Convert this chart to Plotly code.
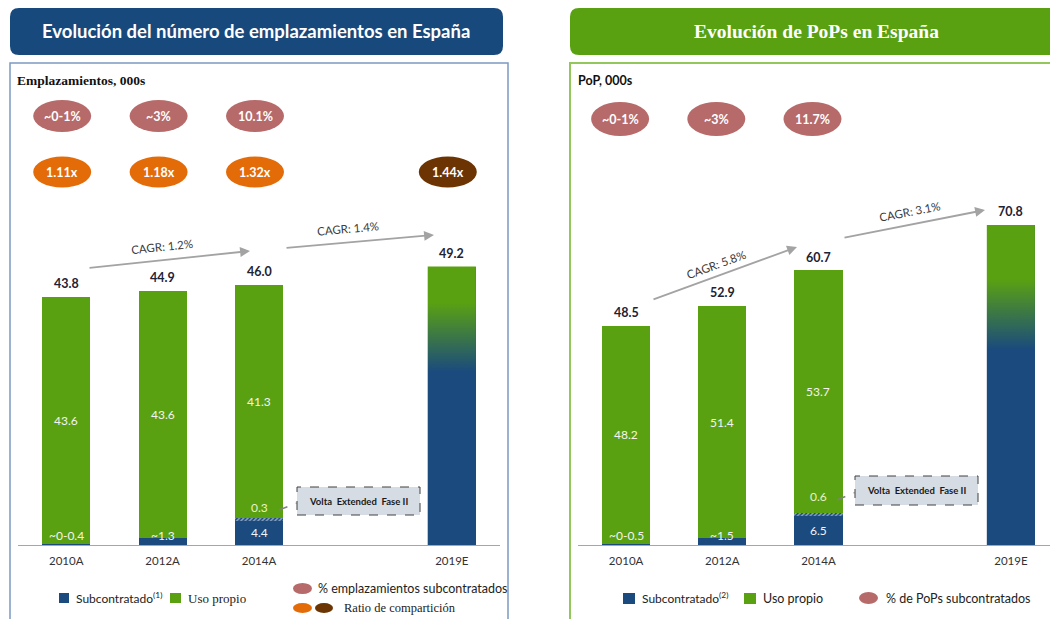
import plotly.graph_objects as go

OFF = 8  # page body margin compensation
W, H = 1058 - OFF, 619 - OFF

# ---------------- data ----------------
categories = ["2010A", "2012A", "2014A", "2019E"]
cat_pos = [0, 1, 2, 4]

emp_sub = [0.2, 1.3, 4.4]
emp_volta = [0.0, 0.0, 0.3]
emp_uso = [43.6, 43.6, 41.3]
emp_total = [43.8, 44.9, 46.0, 49.2]
emp_sub_labels = ["~0-0.4", "~1.3", "4.4"]
emp_uso_labels = ["43.6", "43.6", "41.3"]
emp_volta_label = "0.3"
emp_pct = ["~0-1%", "~3%", "10.1%"]
emp_ratio = ["1.11x", "1.18x", "1.32x", "1.44x"]
emp_cagr = ["CAGR: 1.2%", "CAGR: 1.4%"]

pop_sub = [0.3, 1.5, 6.5]
pop_volta = [0.0, 0.0, 0.6]
pop_uso = [48.2, 51.4, 53.7]
pop_total = [48.5, 52.9, 60.7, 70.8]
pop_sub_labels = ["~0-0.5", "~1.5", "6.5"]
pop_uso_labels = ["48.2", "51.4", "53.7"]
pop_volta_label = "0.6"
pop_pct = ["~0-1%", "~3%", "11.7%"]
pop_cagr = ["CAGR: 5.8%", "CAGR: 3.1%"]

# ---------------- styles ----------------
BLUE = "#1A4A7E"
GREEN = "#5AA112"
PINK = "#B66A6A"
ORANGE = "#E36C09"
BROWN = "#6B3402"
TITLE_BLUE = "#17497C"
TITLE_GREEN = "#5AA112"
SANS = "Lato"
SERIF = "Liberation Serif"


def px(x):
    return (x - OFF) / W


def py(y):
    return 1 - (y - OFF) / H


fig = go.Figure()
shapes = []
anns = []


def add_panel(xa, ya, sub, volta, uso, total, sub_labels, uso_labels, volta_label,
              volta_shift, grad_lo, grad_hi):
    xr = "x" if xa == "x" else "x2"
    yr = "y" if ya == "y" else "y2"
    x3 = cat_pos[:3]
    fig.add_bar(x=x3, y=sub, width=0.5, marker=dict(color=BLUE, line=dict(width=0)),
                xaxis=xa, yaxis=ya, showlegend=False, hoverinfo="y")
    fig.add_bar(x=x3, y=volta, width=0.5,
                marker=dict(color=GREEN, line=dict(width=0),
                            pattern=dict(shape="/", fgcolor="white", bgcolor=BLUE,
                                         size=3, solidity=0.5)),
                xaxis=xa, yaxis=ya, showlegend=False, hoverinfo="y")
    fig.add_bar(x=x3, y=uso, width=0.5, marker=dict(color=GREEN, line=dict(width=0)),
                xaxis=xa, yaxis=ya, showlegend=False, hoverinfo="y")
    fig.add_bar(x=[cat_pos[3]], y=[total[3]], width=0.5,
                marker=dict(color=BLUE, line=dict(width=0)),
                xaxis=xa, yaxis=ya, showlegend=False, hoverinfo="y")
    # gradient overlay for the estimate bar
    c = cat_pos[3]
    T = total[3]
    fig.add_trace(go.Scatter(
        x=[c - 0.25, c + 0.25, c + 0.25, c - 0.25, c - 0.25],
        y=[0, 0, T, T, 0], mode="lines", line=dict(width=0),
        fill="toself",
        fillgradient=dict(type="vertical",
                          colorscale=[[0, BLUE], [grad_lo, BLUE], [grad_hi, GREEN], [1, GREEN]],
                          start=0, stop=T),
        xaxis=xa, yaxis=ya, showlegend=False, hoverinfo="skip"))

    # totals
    for p, t in zip(cat_pos, total):
        anns.append(dict(x=p, y=t, xref=xr, yref=yr, text=f"{t:.1f}", showarrow=False,
                         yanchor="bottom", yshift=4,
                         font=dict(family=SANS, size=12.5, color="#1E2235", weight="bold")))
    # segment labels
    for i, p in enumerate(x3):
        anns.append(dict(x=p, y=sub[i] + volta[i] + uso[i] / 2, xref=xr, yref=yr,
                         text=uso_labels[i], showarrow=False, yanchor="middle",
                         font=dict(family=SANS, size=12, color="#F4F4F4")))
        if i < 2:
            anns.append(dict(x=p, y=0, xref=xr, yref=yr, text=sub_labels[i], showarrow=False,
                             yanchor="bottom", yshift=0,
                             font=dict(family=SANS, size=12, color="#F4F4F4")))
        else:
            anns.append(dict(x=p, y=sub[i] / 2, xref=xr, yref=yr, text=sub_labels[i],
                             showarrow=False, yanchor="middle",
                             font=dict(family=SANS, size=12, color="#F4F4F4")))
    anns.append(dict(x=x3[2], y=sub[2] + volta[2], xref=xr, yref=yr, text=volta_label,
                     showarrow=False, yanchor="bottom", yshift=volta_shift,
                     font=dict(family=SANS, size=12, color="#E8F2CC")))


add_panel("x", "y", emp_sub, emp_volta, emp_uso, emp_total, emp_sub_labels,
          emp_uso_labels, emp_volta_label, 1, 0.62, 0.87)
add_panel("x2", "y2", pop_sub, pop_volta, pop_uso, pop_total, pop_sub_labels,
          pop_uso_labels, pop_volta_label, 7, 0.61, 0.83)


# ---------------- decorations ----------------
def rounded(x0, y0, x1, y1, r, color):
    rx, ry = r / W, r / H
    X0, X1, YT, YB = px(x0), px(x1), py(y0), py(y1)
    path = (f"M {X0+rx},{YT} L {X1-rx},{YT} Q {X1},{YT} {X1},{YT-ry} "
            f"L {X1},{YB+ry} Q {X1},{YB} {X1-rx},{YB} L {X0+rx},{YB} "
            f"Q {X0},{YB} {X0},{YB+ry} L {X0},{YT-ry} Q {X0},{YT} {X0+rx},{YT} Z")
    shapes.append(dict(type="path", xref="paper", yref="paper", path=path,
                       fillcolor=color, line=dict(width=0), layer="below"))


def prect(x0, y0, x1, y1, **kw):
    d = dict(type="rect", xref="paper", yref="paper", x0=px(x0), x1=px(x1),
             y0=py(y1), y1=py(y0))
    d.update(kw)
    shapes.append(d)


def pellipse(x0, y0, x1, y1, color):
    shapes.append(dict(type="circle", xref="paper", yref="paper", x0=px(x0), x1=px(x1),
                       y0=py(y1), y1=py(y0), fillcolor=color, line=dict(width=0)))


def ptext(x, y, text, size, color, family=SANS, bold=False, xanchor="left", **kw):
    d = dict(x=px(x), y=py(y), xref="paper", yref="paper", text=text, showarrow=False,
             xanchor=xanchor, yanchor="middle",
             font=dict(family=family, size=size, color=color,
                       weight="bold" if bold else "normal"))
    d.update(kw)
    anns.append(d)


# title boxes
rounded(10, 8, 503, 55, 9, TITLE_BLUE)
rounded(570, 8, 1075, 55, 9, TITLE_GREEN)
ptext(256, 31, "Evolución del número de emplazamientos en España", 18.5, "white",
      bold=True, xanchor="center")
ptext(816, 31, "Evolución de PoPs en España", 19.5, "white", family=SERIF,
      bold=True, xanchor="center")

# panel borders
prect(10, 63, 508, 640, line=dict(color="#7B9BC1", width=1.5), fillcolor="rgba(0,0,0,0)",
      layer="below")
shapes.append(dict(type="path", xref="paper", yref="paper",
                   path=f"M {px(570)},{py(640)} L {px(570)},{py(63)} L {px(1075)},{py(63)}",
                   line=dict(color="#93C75C", width=2), layer="below"))

ptext(15, 80, "Emplazamientos, 000s", 13.5, "#111", family=SERIF, bold=True)
ptext(576, 80, "PoP, 000s", 12.5, "#111", bold=True)


# ovals
def oval_row(xr, positions, labels, colors, yc, h, off, w=58):
    for p, lab, col in zip(positions, labels, colors):
        shapes.append(dict(type="circle", xref=xr, xsizemode="pixel", xanchor=p,
                           x0=-w / 2 + off, x1=w / 2 + off, yref="paper",
                           y0=py(yc + h / 2), y1=py(yc - h / 2), fillcolor=col,
                           line=dict(width=0)))
        anns.append(dict(x=p, xref=xr, xshift=off, y=py(yc), yref="paper", text=lab,
                         showarrow=False, xanchor="center", yanchor="middle",
                         font=dict(family=SANS, size=12.5, color="white", weight="bold")))


oval_row("x", cat_pos[:3], emp_pct, [PINK] * 3, 116, 32, -4)
oval_row("x", cat_pos, emp_ratio, [ORANGE] * 3 + [BROWN], 172, 31, -4)
oval_row("x2", cat_pos[:3], pop_pct, [PINK] * 3, 119, 34, -6)


# CAGR arrows
def arrow(tail, head, label, lc, angle):
    anns.append(dict(x=px(head[0]), y=py(head[1]), xref="paper", yref="paper",
                     ax=tail[0] - head[0], ay=tail[1] - head[1], axref="pixel", ayref="pixel",
                     text="", showarrow=True, arrowhead=2, arrowsize=1.1, arrowwidth=1.8,
                     arrowcolor="#A3A3A3"))
    ptext(lc[0], lc[1], label, 11.5, "#3A3A3A", xanchor="center", textangle=angle)


arrow((88, 268), (250, 251), emp_cagr[0], (162, 246), -6)
arrow((285, 248), (434, 235), emp_cagr[1], (348, 228), -5)
arrow((652, 300), (797, 247), pop_cagr[0], (716, 264), -20)
arrow((843, 238), (985, 210), pop_cagr[1], (910, 212), -11)


# Volta Extended boxes
def volta_box(x0, y0, x1, y1, lx0, ly0):
    prect(x0, y0, x1, y1, fillcolor="#D5DCE4", line=dict(color="#404040", width=1, dash="dash"))
    shapes.append(dict(type="line", xref="paper", yref="paper", x0=px(lx0), y0=py(ly0),
                       x1=px(x0), y1=py((y0 + y1) / 2 + 2),
                       line=dict(color="#808080", width=1.5, dash="dash")))
    ptext((x0 + x1) / 2, (y0 + y1) / 2, "Volta  Extended  Fase II", 9.5, "#1A1A1A",
          bold=True, xanchor="center")


volta_box(297, 487, 420, 515, 279, 510)
volta_box(855, 476, 978, 505, 837, 500)

# legends
prect(59, 593, 69, 603, fillcolor=BLUE, line=dict(width=0))
ptext(74, 598, "Subcontratado<sup>(1)</sup>", 12, "#222")
prect(170, 593, 181, 603, fillcolor=GREEN, line=dict(width=0))
ptext(186, 598, "Uso propio", 13, "#222", family=SERIF)
pellipse(293, 583, 312, 594, PINK)
ptext(316, 588, "% emplazamientos subcontratados", 12.5, "#222")
pellipse(293, 603, 312, 613, ORANGE)
pellipse(315, 603, 333, 613, BROWN)
ptext(342, 608, "Ratio de compartición", 12.5, "#222", family=SERIF)

prect(623, 593, 635, 604, fillcolor=BLUE, line=dict(width=0))
ptext(640, 598, "Subcontratado<sup>(2)</sup>", 12, "#222")
prect(744, 593, 756, 604, fillcolor=GREEN, line=dict(width=0))
ptext(761, 598, "Uso propio", 12.5, "#222")
pellipse(859, 592, 878, 604, PINK)
ptext(884, 598, "% de PoPs subcontratados", 12.5, "#222")

# ---------------- axes ----------------
xcommon = dict(tickvals=cat_pos, ticktext=categories, showline=True, linecolor="#A6A6A6",
               linewidth=1, showgrid=False, zeroline=False, ticks="",
               tickfont=dict(family=SANS, size=11.5, color="#333"), ticklabelstandoff=5,
               fixedrange=True)
ycommon = dict(visible=False, showgrid=False, zeroline=False, fixedrange=True)
ydom = [py(545), py(65)]

fig.update_layout(
    width=W, height=H, margin=dict(l=0, r=0, t=0, b=0),
    paper_bgcolor="white", plot_bgcolor="rgba(0,0,0,0)",
    barmode="stack", bargap=0, showlegend=False,
    xaxis=dict(domain=[px(18), px(500)], range=[-0.5, 4.5], anchor="y", **xcommon),
    yaxis=dict(domain=ydom, range=[0, 84.8], anchor="x", **ycommon),
    xaxis2=dict(domain=[px(578), 1.0], range=[-0.5, 4.49], anchor="y2", **xcommon),
    yaxis2=dict(domain=ydom, range=[0, 106.2], anchor="x2", **ycommon),
    shapes=shapes, annotations=anns,
)

fig.write_html("out.html")
